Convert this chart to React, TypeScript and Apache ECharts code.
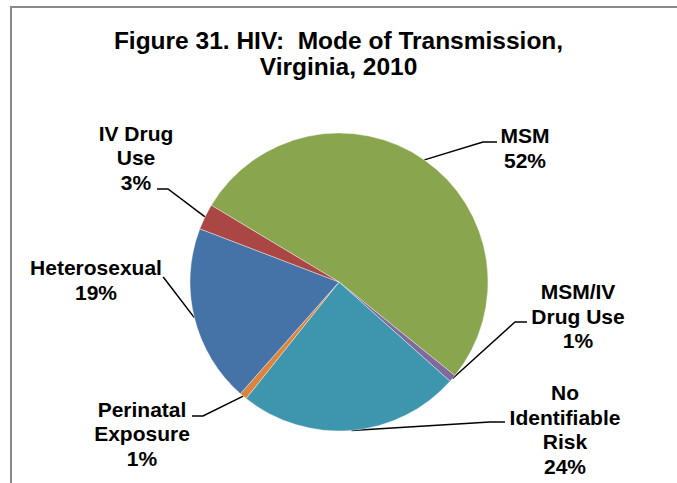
import React, { useEffect, useRef } from "react";
import * as echarts from "echarts";

// ---- data ----
const categories = [
  "MSM",
  "MSM/IV Drug Use",
  "No Identifiable Risk",
  "Perinatal Exposure",
  "Heterosexual",
  "IV Drug Use",
];
const percentValues = [52.2, 0.8, 24.1, 0.8, 19.3, 2.8];
const labelTexts = [
  "MSM",
  "MSM/IV\nDrug Use",
  "No\nIdentifiable\nRisk",
  "Perinatal\nExposure",
  "Heterosexual",
  "IV Drug\nUse",
];
const colors = ["#89A54E", "#80699B", "#3D96AE", "#DB843D", "#4572A7", "#AA4643"];
const titleText = "Figure 31. HIV:  Mode of Transmission,\nVirginia, 2010";

// ---- layout (positions of labels and leader-line elbows) ----
const CX = 339;
const CY = 282;
const R = 149;
const START_ANGLE = 149;
const labelLayoutCfg = [
  { x: 525, y: 148, elbow: [483, 142], end: [497, 142] },
  { x: 578, y: 316, elbow: [515, 322], end: [527, 322] },
  { x: 565, y: 429.5, elbow: [490, 422], end: [505, 422] },
  { x: 142, y: 433.5, elbow: [203, 416], end: [192, 416] },
  { x: 96, y: 280, elbow: [164, 278], end: [163, 277] },
  { x: 136, y: 157.5, elbow: [168, 189], end: [157, 189] },
];

function fallbackAnchor(i: number): number[] {
  const total = percentValues.reduce((a, b) => a + b, 0);
  let cum = 0;
  for (let k = 0; k < i; k++) cum += percentValues[k];
  const mid = START_ANGLE - ((cum + percentValues[i] / 2) / total) * 360;
  const rad = (mid * Math.PI) / 180;
  return [CX + R * Math.cos(rad), CY - R * Math.sin(rad)];
}

export default function App() {
  const ref = useRef<HTMLDivElement>(null);
  useEffect(() => {
    document.body.style.margin = "0";
    if (!ref.current) return;
    const chart = echarts.init(ref.current, null, { renderer: "svg" });
    const font = "'Liberation Sans', Arial, sans-serif";
    chart.setOption({
      animation: false,
      backgroundColor: "#ffffff",
      title: {
        text: titleText,
        left: "center",
        top: 27,
        padding: 0,
        textStyle: {
          fontFamily: font,
          fontSize: 24.5,
          fontWeight: "bold",
          color: "#000",
          lineHeight: 26,
        },
      },
      graphic: [
        {
          type: "polyline",
          shape: { points: [[677, 7], [11, 7], [11, 483]] },
          style: { stroke: "#898989", lineWidth: 2, fill: null },
          silent: true,
        },
      ],
      series: [
        {
          type: "pie",
          center: [CX, CY],
          radius: R,
          startAngle: START_ANGLE,
          clockwise: true,
          avoidLabelOverlap: false,
          itemStyle: { borderColor: "#ffffff", borderWidth: 0.4 },
          label: {
            show: true,
            position: "outside",
            fontFamily: font,
            fontSize: 21,
            fontWeight: "bold",
            color: "#000",
            lineHeight: 24.5,
            formatter: (p: any) =>
              labelTexts[p.dataIndex] + "\n" + Math.round(p.percent) + "%",
          },
          labelLine: {
            show: true,
            length: 0,
            length2: 0,
            lineStyle: { color: "#000", width: 1.5 },
          },
          labelLayout: (params: any) => {
            const i = params.dataIndex;
            const cfg = labelLayoutCfg[i];
            const anchor =
              params.labelLinePoints && params.labelLinePoints[0]
                ? params.labelLinePoints[0]
                : fallbackAnchor(i);
            return {
              x: cfg.x,
              y: cfg.y,
              align: "center",
              verticalAlign: "middle",
              labelLinePoints: [anchor, cfg.elbow, cfg.end],
            };
          },
          data: categories.map((name, i) => ({
            name,
            value: percentValues[i],
            itemStyle: { color: colors[i] },
          })),
        },
      ],
    });
    return () => chart.dispose();
  }, []);
  return <div ref={ref} style={{ width: 677, height: 483 }} />;
}
